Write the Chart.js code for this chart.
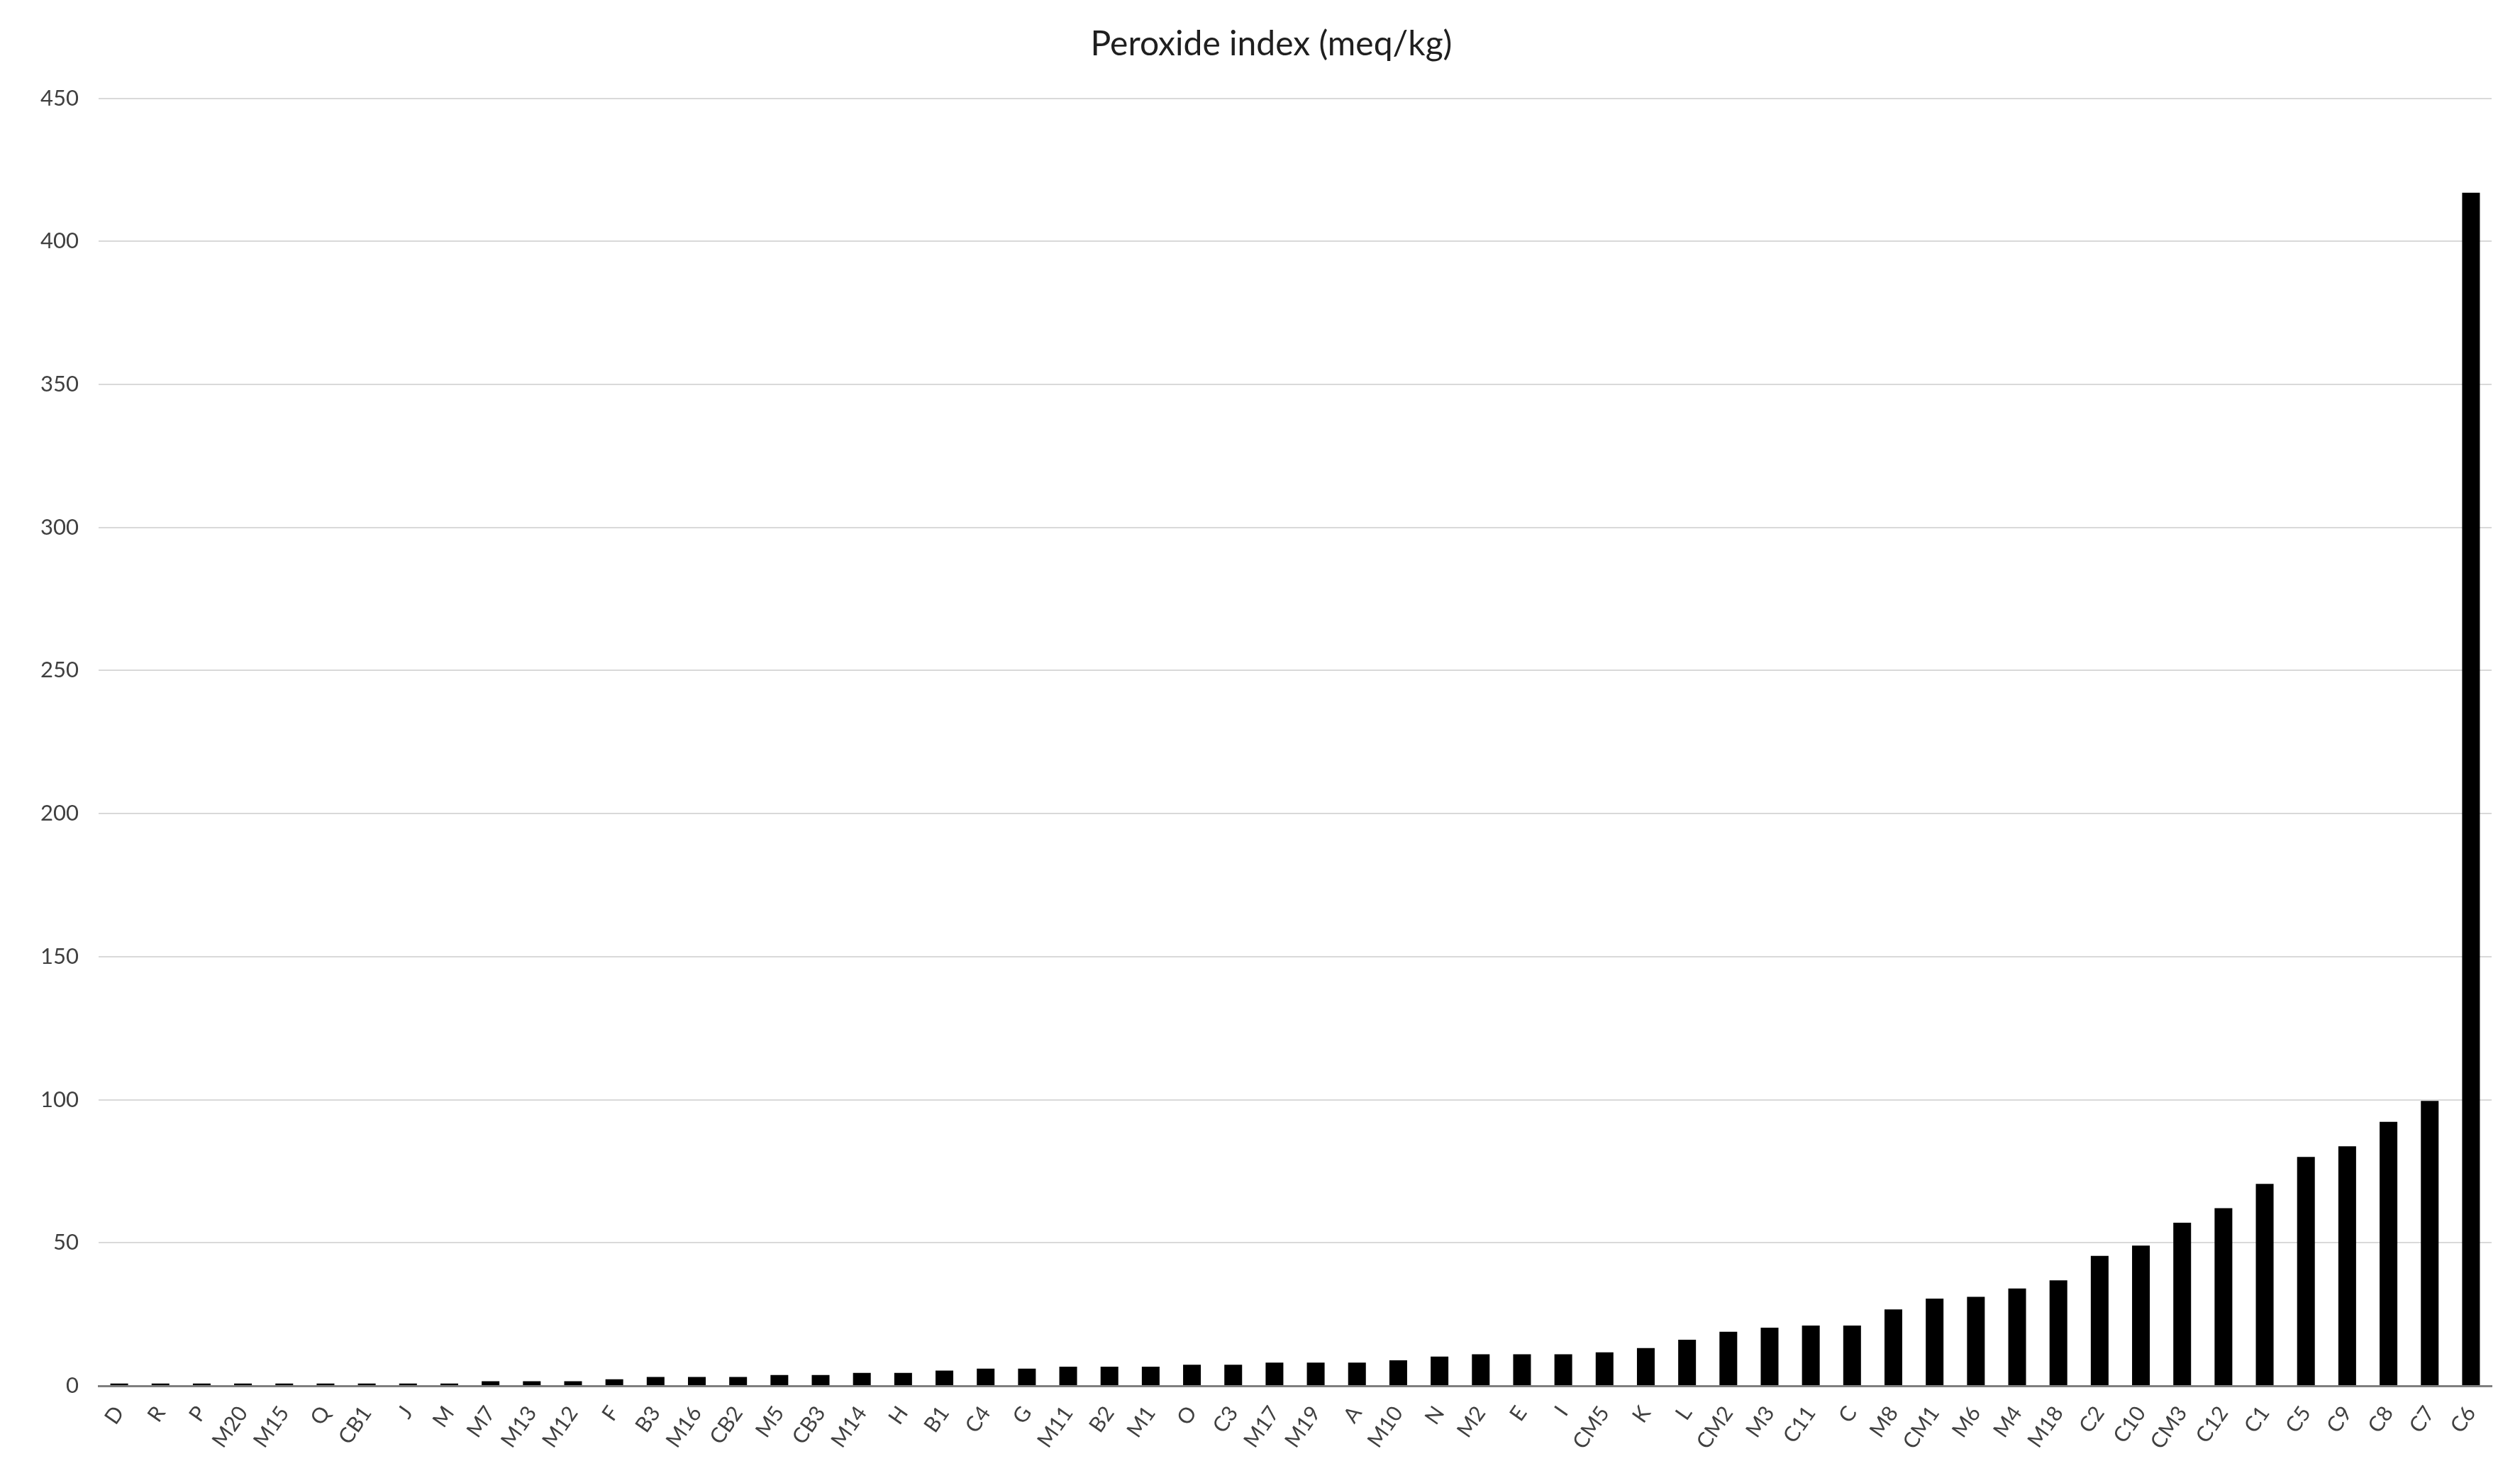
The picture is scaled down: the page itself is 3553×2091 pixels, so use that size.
<!DOCTYPE html>
<html>
<head>
<meta charset="utf-8">
<title>Peroxide index</title>
<script src="https://cdn.jsdelivr.net/npm/chart.js@4.4.0/dist/chart.umd.min.js"></script>
<style>
  html, body { margin: 0; padding: 0; background: #fff; }
  #wrap { width: 3553px; height: 2091px; }
</style>
</head>
<body>
<div id="wrap"><canvas id="chart" width="3553" height="2091"></canvas></div>
<script>
// Peroxide index per sample, sorted ascending
const samples = [
  'D', 'R', 'P', 'M20', 'M15', 'Q', 'CB1', 'J', 'M', 'M7',
  'M13', 'M12', 'F', 'B3', 'M16', 'CB2', 'M5', 'CB3', 'M14', 'H',
  'B1', 'C4', 'G', 'M11', 'B2', 'M1', 'O', 'C3', 'M17', 'M19',
  'A', 'M10', 'N', 'M2', 'E', 'I', 'CM5', 'K', 'L', 'CM2',
  'M3', 'C11', 'C', 'M8', 'CM1', 'M6', 'M4', 'M18', 'C2', 'C10',
  'CM3', 'C12', 'C1', 'C5', 'C9', 'C8', 'C7', 'C6'
];
const peroxide = [
  0.8, 0.8, 0.8, 0.8, 0.8, 0.8, 0.8, 0.8, 0.8, 1.6,
  1.6, 1.6, 2.3, 3.1, 3.1, 3.1, 3.8, 3.8, 4.5, 4.5,
  5.3, 6.0, 6.0, 6.7, 6.7, 6.7, 7.4, 7.4, 8.1, 8.1,
  8.1, 8.9, 10.2, 11.0, 11.0, 11.0, 11.7, 13.2, 16.1, 18.9,
  20.3, 21.1, 21.1, 26.7, 30.5, 31.1, 34.0, 36.9, 45.4, 49.0,
  57.0, 62.1, 70.6, 80.0, 83.7, 92.3, 99.6, 417
];
const yTicks = [0, 50, 100, 150, 200, 250, 300, 350, 400, 450];
const chartTitle = 'Peroxide index (meq/kg)';

const font = 'Lato, "Open Sans", sans-serif';

// the original title sits a little right of the canvas centre
const titleShift = {
  id: 'titleShift',
  afterLayout(chart) {
    if (chart.titleBlock) chart.titleBlock.left += 72;
  },
};

new Chart(document.getElementById('chart'), {
  type: 'bar',
  data: {
    labels: samples,
    datasets: [{
      label: chartTitle,
      data: peroxide,
      backgroundColor: '#000',
      borderWidth: 0,
      barPercentage: 0.43,
      categoryPercentage: 1.0,
    }],
  },
  plugins: [titleShift],
  options: {
    responsive: false,
    animation: false,
    layout: { padding: { left: 0, right: 40, top: 0, bottom: 0 } },
    plugins: {
      legend: { display: false },
      tooltip: { enabled: false },
      title: {
        display: true,
        text: chartTitle,
        color: '#1f1f1f',
        font: { family: font, size: 48, weight: 'normal' },
        padding: { top: 34, bottom: 47 },
      },
    },
    scales: {
      x: {
        grid: { display: false, drawTicks: false },
        border: { display: true, color: '#7f7f7f', width: 3 },
        ticks: {
          autoSkip: false,
          minRotation: 55,
          maxRotation: 55,
          padding: 22,
          color: '#404040',
          font: { family: font, size: 30 },
        },
        afterFit: scale => { scale.height = 2091 - 1954; },
      },
      y: {
        min: yTicks[0],
        max: yTicks[yTicks.length - 1],
        afterBuildTicks: scale => { scale.ticks = yTicks.map(v => ({ value: v })); },
        grid: { color: '#d9d9d9', lineWidth: 2, drawTicks: false },
        border: { display: false },
        ticks: {
          padding: 28,
          color: '#404040',
          font: { family: font, size: 31 },
        },
        afterFit: scale => { scale.width = 139; },
      },
    },
  },
});
</script>
</body>
</html>
